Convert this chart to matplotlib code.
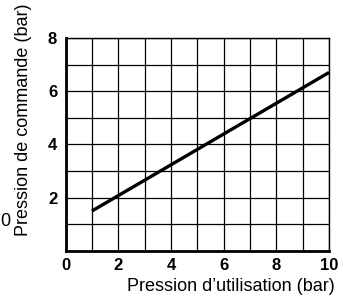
import numpy as np
import matplotlib.pyplot as plt

plt.rcParams['font.family'] = ['Liberation Sans', 'DejaVu Sans']

# donnees
p_util = [1, 10]
p_cmd = [1.5, 6.7]
x_ticks = [0, 2, 4, 6, 8, 10]
y_ticks = [2, 4, 6, 8]

fig = plt.figure(figsize=(3.43, 2.96), dpi=100)
ax = fig.add_axes([0.191, 0.152, 0.768, 0.720])

ax.plot(p_util, p_cmd, color='black', lw=2.4, solid_capstyle='butt')

ax.set_xlim(0, 10)
ax.set_ylim(0, 8)
ax.set_xticks(np.arange(0, 11, 1), minor=True)
ax.set_yticks(np.arange(0, 9, 1), minor=True)
ax.set_xticks(x_ticks)
ax.set_yticks(y_ticks)
ax.grid(which='both', color='black', lw=0.9)
ax.tick_params(which='both', length=0, labelsize=12)
ax.tick_params(axis='x', pad=5)
ax.tick_params(axis='y', pad=6)
for lab in ax.get_xticklabels() + ax.get_yticklabels():
    lab.set_fontweight('bold')

for side in ['left', 'bottom']:
    ax.spines[side].set_linewidth(2)
for side in ['top', 'right']:
    ax.spines[side].set_linewidth(1)

fig.text(231 / 343, 0.016, "Pression d\u2019utilisation (bar)", fontsize=13,
         ha='center', va='baseline')
fig.text(23.5 / 343, 176 / 296, "Pression de commande (bar)", fontsize=13,
         rotation=90, ha='center', va='center')

fig.text(0.002, 0.253, '0', fontsize=13, ha='left', va='center')

fig.savefig('out.png', dpi=100)
